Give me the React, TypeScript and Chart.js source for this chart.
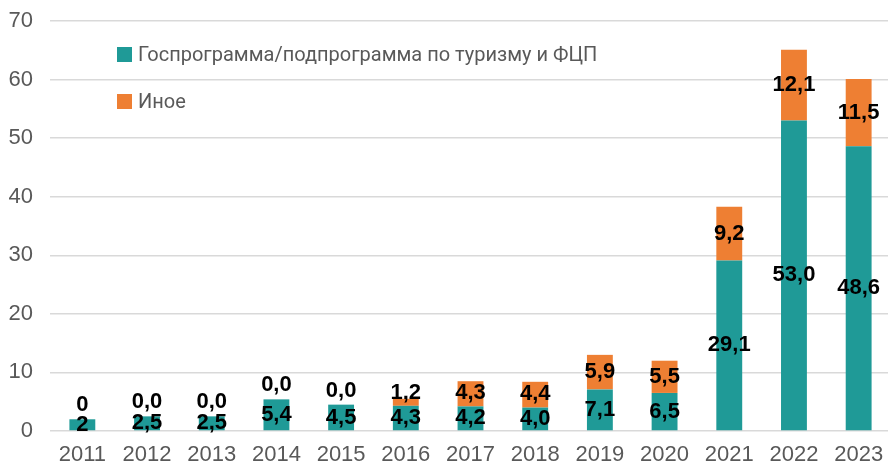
import React, { useEffect, useRef } from "react";
import { Chart, registerables } from "chart.js";

Chart.register(...registerables);

const categories = ["2011", "2012", "2013", "2014", "2015", "2016", "2017", "2018", "2019", "2020", "2021", "2022", "2023"];
const govProgram = [2, 2.5, 2.5, 5.4, 4.5, 4.3, 4.2, 4.0, 7.1, 6.5, 29.1, 53.0, 48.6];
const other = [0, 0, 0, 0, 0, 1.2, 4.3, 4.4, 5.9, 5.5, 9.2, 12.1, 11.5];
const labelDecimals = [0, 1, 1, 1, 1, 1, 1, 1, 1, 1, 1, 1, 1];
const seriesNames = ["Госпрограмма/подпрограмма по туризму и ФЦП", "Иное"];
const seriesColors = ["#1F9A97", "#EE7F33"];
const yMin = 0;
const yMax = 70;
const yStep = 10;

const labelPlugin = {
  id: "barLabels",
  afterDatasetsDraw(chart: any) {
    const ctx = chart.ctx;
    ctx.save();
    ctx.font = "bold 22px 'Liberation Sans', Arial, sans-serif";
    ctx.fillStyle = "#000000";
    ctx.textAlign = "center";
    ctx.textBaseline = "middle";
    const n = chart.data.labels.length;
    for (let i = 0; i < n; i++) {
      let prev = Infinity;
      chart.data.datasets.forEach((ds: any, di: number) => {
        const el = chart.getDatasetMeta(di).data[i];
        const v = ds.data[i];
        const text = v.toFixed(labelDecimals[i]).replace(".", ",");
        let y;
        if (v === 0) y = el.y - 14;
        else y = Math.min((el.y + el.base) / 2, prev - 25);
        ctx.fillText(text, el.x, y);
        prev = y;
      });
    }
    ctx.restore();
  },
};

const legendPlugin = {
  id: "insideLegend",
  afterDraw(chart: any) {
    const ctx = chart.ctx;
    ctx.save();
    ctx.font = "20px Roboto, 'Liberation Sans', sans-serif";
    ctx.textBaseline = "middle";
    ctx.textAlign = "left";
    chart.data.datasets.forEach((ds: any, di: number) => {
      const top = 47 + di * 47;
      ctx.fillStyle = ds.backgroundColor;
      ctx.fillRect(117, top, 15, 15);
      ctx.fillStyle = "#595959";
      ctx.fillText(ds.label, 138, top + 9);
    });
    ctx.restore();
  },
};

export default function App() {
  const ref = useRef<HTMLCanvasElement>(null);
  useEffect(() => {
    if (!ref.current) return;
    const chart = new Chart(ref.current, {
      type: "bar",
      data: {
        labels: categories,
        datasets: [
          { label: seriesNames[0], data: govProgram, backgroundColor: seriesColors[0], categoryPercentage: 1, barPercentage: 0.4 },
          { label: seriesNames[1], data: other, backgroundColor: seriesColors[1], categoryPercentage: 1, barPercentage: 0.4 },
        ],
      },
      options: {
        responsive: false,
        animation: false,
        devicePixelRatio: 1,
        layout: { padding: { top: 21, right: 0, left: 0, bottom: 0 } },
        plugins: { legend: { display: false }, tooltip: { enabled: false } },
        scales: {
          x: {
            stacked: true,
            grid: { display: false, drawTicks: false },
            border: { display: false },
            ticks: { color: "#595959", font: { size: 22, family: "'Liberation Sans', Arial, sans-serif" }, padding: 11, maxRotation: 0, autoSkip: false },
            afterFit: (s: any) => { s.height = 33; s.paddingLeft = 0; s.paddingRight = 0; },
          },
          y: {
            stacked: true,
            min: yMin,
            max: yMax,
            grid: { color: "#D9D9D9", lineWidth: 1.5, drawTicks: false },
            border: { display: false },
            ticks: { stepSize: yStep, color: "#595959", font: { size: 22, family: "'Liberation Sans', Arial, sans-serif" }, padding: 17 },
            afterFit: (s: any) => { s.width = 50; s.paddingTop = 0; s.paddingBottom = 0; },
          },
        },
      },
      plugins: [labelPlugin, legendPlugin],
    });
    return () => chart.destroy();
  }, []);
  return (
    <div style={{ position: "absolute", left: 0, top: 0, width: 888, height: 464, overflow: "hidden", background: "#fff" }}>
      <canvas ref={ref} width={891} height={464} style={{ display: "block" }} />
    </div>
  );
}
